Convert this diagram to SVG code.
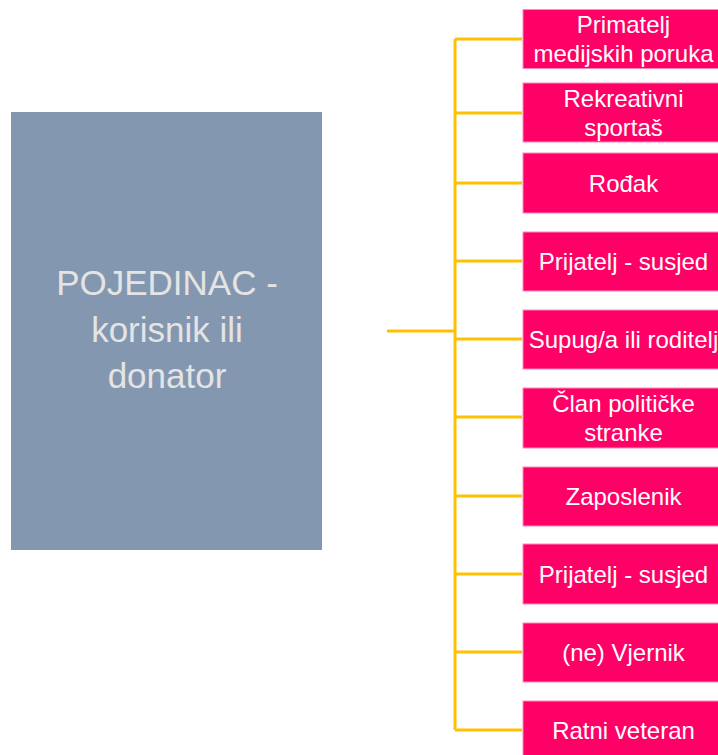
<svg xmlns="http://www.w3.org/2000/svg" width="718" height="755" viewBox="0 0 718 755">
<style>
.leaf{fill:#FF0066;stroke:#FF8AB8;stroke-width:1}
.lt{font-family:"Liberation Sans",Arial,sans-serif;font-size:24px;fill:#FFFFFF;text-anchor:middle}
.mt{font-family:"Liberation Sans",Arial,sans-serif;font-size:35px;fill:#E4E4E4;text-anchor:middle}
.con{stroke:#FFC000;stroke-width:3;fill:none}
</style>
<rect width="718" height="755" fill="#FFFFFF"/>
<g id="connectors">
<line class="con" x1="387" y1="331" x2="455" y2="331"/>
<line class="con" x1="455" y1="39" x2="455" y2="730"/>
<line class="con" x1="455" y1="39" x2="522" y2="39"/>
<line class="con" x1="455" y1="113" x2="522" y2="113"/>
<line class="con" x1="455" y1="183" x2="522" y2="183"/>
<line class="con" x1="455" y1="261" x2="522" y2="261"/>
<line class="con" x1="455" y1="339" x2="522" y2="339"/>
<line class="con" x1="455" y1="417" x2="522" y2="417"/>
<line class="con" x1="455" y1="496" x2="522" y2="496"/>
<line class="con" x1="455" y1="574" x2="522" y2="574"/>
<line class="con" x1="455" y1="652" x2="522" y2="652"/>
<line class="con" x1="455" y1="730" x2="522" y2="730"/>
</g>
<g id="main">
<rect x="11" y="112" width="311" height="438" fill="#8497B0"/>
<text class="mt" x="167" y="295">POJEDINAC -</text>
<text class="mt" x="167" y="342">korisnik ili</text>
<text class="mt" x="167" y="388">donator</text>
</g>
<g id="n1"><rect class="leaf" x="523" y="9.5" width="202" height="59"/><text class="lt" x="623.5" y="33">Primatelj</text><text class="lt" x="623.5" y="62">medijskih poruka</text></g>
<g id="n2"><rect class="leaf" x="523" y="83" width="202" height="59"/><text class="lt" x="623.5" y="106.5">Rekreativni</text><text class="lt" x="623.5" y="135.5">sportaš</text></g>
<g id="n3"><rect class="leaf" x="523" y="153" width="202" height="60"/><text class="lt" x="623.5" y="191.5">Rođak</text></g>
<g id="n4"><rect class="leaf" x="523" y="232" width="202" height="59"/><text class="lt" x="623.5" y="270">Prijatelj - susjed</text></g>
<g id="n5"><rect class="leaf" x="523" y="310" width="202" height="59"/><text class="lt" x="623.5" y="348">Supug/a ili roditelj</text></g>
<g id="n6"><rect class="leaf" x="523" y="388" width="202" height="60"/><text class="lt" x="623.5" y="411.5">Član političke</text><text class="lt" x="623.5" y="440.5">stranke</text></g>
<g id="n7"><rect class="leaf" x="523" y="467" width="202" height="59"/><text class="lt" x="623.5" y="505">Zaposlenik</text></g>
<g id="n8"><rect class="leaf" x="523" y="544" width="202" height="60"/><text class="lt" x="623.5" y="583">Prijatelj - susjed</text></g>
<g id="n9"><rect class="leaf" x="523" y="623" width="202" height="59"/><text class="lt" x="623.5" y="661">(ne) Vjernik</text></g>
<g id="n10"><rect class="leaf" x="523" y="701" width="202" height="60"/><text class="lt" x="623.5" y="739">Ratni veteran</text></g>
</svg>
